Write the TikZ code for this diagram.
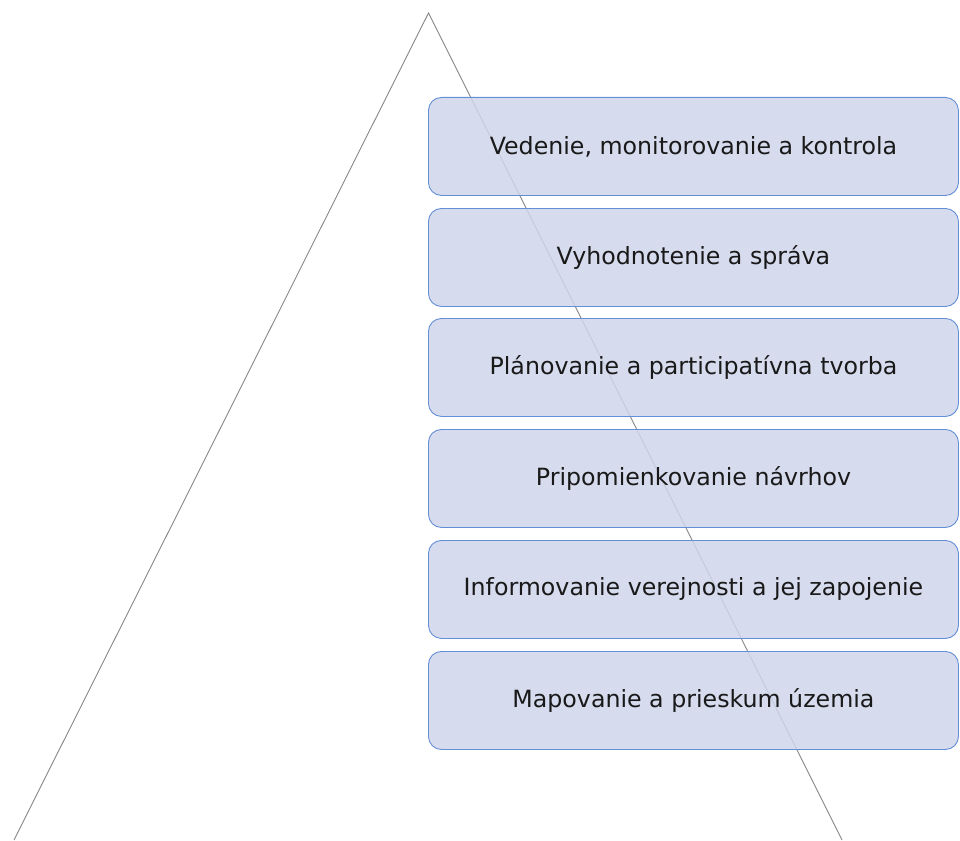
\documentclass[tikz,border=0pt]{standalone}
\usepackage{fontspec}
\setmainfont{DejaVu Sans}
\definecolor{boxfill}{RGB}{207,213,234}
\definecolor{boxdraw}{RGB}{100,142,214}
\definecolor{tri}{RGB}{135,135,135}
\tikzset{
  layer/.style={draw=boxdraw, line width=0.9pt, fill=boxfill, fill opacity=0.85, text opacity=1,
    rounded corners=13pt, minimum width=530pt, minimum height=98pt, anchor=north west,
    font=\fontsize{23.7}{28}\selectfont, text=black!90, inner sep=0pt},
  triline/.style={draw=tri, line width=0.9pt}
}
\begin{document}
\begin{tikzpicture}[x=1pt,y=-1pt]
\useasboundingbox (0,0) rectangle (960,840);
\coordinate (apex) at (428.5,13);
\coordinate (bl) at (14,840);
\coordinate (br) at (842,840);
\draw[triline] (bl) -- (apex) -- (br);
\node[layer] (l1) at (428,97) {Vedenie, monitorovanie a kontrola};
\node[layer] (l2) at (428,208) {Vyhodnotenie a správa};
\node[layer] (l3) at (428,318) {Plánovanie a participatívna tvorba};
\node[layer] (l4) at (428,429) {Pripomienkovanie návrhov};
\node[layer] (l5) at (428,540) {Informovanie verejnosti a jej zapojenie};
\node[layer] (l6) at (428,651) {Mapovanie a prieskum územia};
\end{tikzpicture}
\end{document}
